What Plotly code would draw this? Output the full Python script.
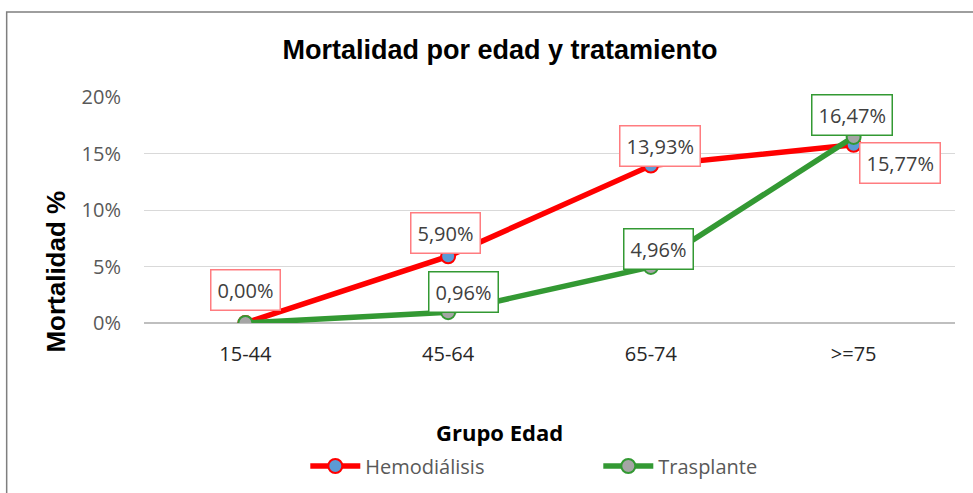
import plotly.graph_objects as go

categories = ["15-44", "45-64", "65-74", ">=75"]
hemodialisis = [0.0, 0.0590, 0.1393, 0.1577]
trasplante = [0.0, 0.0096, 0.0496, 0.1647]
y_ticks = [0, 0.05, 0.10, 0.15, 0.20]
y_tick_labels = ["0%", "5%", "10%", "15%", "20%"]

# label offsets (px) for data labels
hemo_shift = [(0, 33), (-3, 23), (9, 20), (46, -18)]
tras_shift = [(0, 0), (15, 20), (8, 18), (-2, 22)]

W, H = 973, 493
L, R, T, B = 143.5, 17.5, 97, 170
pw, ph = W - L - R, H - T - B

def px(x):
    return (x - L) / pw

def py(y):
    return (H - B - y) / ph

RED = "#FF0000"
GREEN = "#339933"
LABEL_FONT = "Open Sans"

fig = go.Figure()
fig.add_trace(go.Scatter(
    x=categories, y=hemodialisis, name="Hemodiálisis", mode="lines+markers",
    line=dict(color=RED, width=5.5),
    marker=dict(size=14, color="#5B9BD5", line=dict(color=RED, width=2)),
))
fig.add_trace(go.Scatter(
    x=categories, y=trasplante, name="Trasplante", mode="lines+markers",
    line=dict(color=GREEN, width=5.5),
    marker=dict(size=14, color="#A5A5A5", line=dict(color=GREEN, width=2)),
))

def fmt(v):
    return f"{v*100:.2f}%".replace(".", ",")

annotations = []
for c, v, (dx, dy) in zip(categories, hemodialisis, hemo_shift):
    annotations.append(dict(
        x=c, y=v, text=fmt(v), showarrow=False, xshift=dx, yshift=dy,
        font=dict(family=LABEL_FONT, size=20, color="#404040"),
        bordercolor="#FF7C80", borderwidth=1.5, borderpad=6, bgcolor="white",
    ))
for i, (c, v, (dx, dy)) in enumerate(zip(categories, trasplante, tras_shift)):
    if i == 0:
        continue  # 0,00% shown once (overlapping labels)
    annotations.append(dict(
        x=c, y=v, text=fmt(v), showarrow=False, xshift=dx, yshift=dy,
        font=dict(family=LABEL_FONT, size=20, color="#404040"),
        bordercolor=GREEN, borderwidth=1.5, borderpad=6, bgcolor="white",
    ))

annotations.append(dict(
    xref="paper", yref="paper", x=px(55), y=py(272), text="<b>Mortalidad %</b>",
    xanchor="center", yanchor="middle",
    textangle=-90, showarrow=False,
    font=dict(family="Liberation Sans", size=26, color="black"),
))
annotations.append(dict(
    xref="paper", yref="paper", x=px(499), y=py(432), text="<b>Grupo Edad</b>",
    xanchor="center", yanchor="middle",
    showarrow=False, font=dict(family=LABEL_FONT, size=22, color="black"),
))

fig.update_layout(
    width=W, height=H,
    margin=dict(l=L, r=R, t=T, b=B, autoexpand=False),
    paper_bgcolor="white", plot_bgcolor="white",
    title=dict(text="<b>Mortalidad por edad y tratamiento</b>",
               xref="container", yref="container",
               x=500 / W, xanchor="center", y=1 - 50 / H, yanchor="middle",
               font=dict(family="Liberation Sans", size=27, color="black")),
    xaxis=dict(type="category", range=[-0.5, 3.5], showgrid=False,
               showline=False, zeroline=False, ticks="",
               ticklabelstandoff=17,
               tickfont=dict(family=LABEL_FONT, size=20, color="#262626")),
    yaxis=dict(range=[0, 0.2], tickvals=y_ticks, ticktext=y_tick_labels,
               showgrid=True, gridcolor="#D9D9D9", gridwidth=1,
               zeroline=True, zerolinecolor="#BFBFBF", zerolinewidth=1.5,
               showline=False, ticks="", ticklabelstandoff=22,
               tickfont=dict(family=LABEL_FONT, size=20, color="#595959")),
    legend=dict(orientation="h", x=px(305), xanchor="left", y=py(466), yanchor="middle",
                font=dict(family=LABEL_FONT, size=20, color="#595959"),
                itemwidth=50, entrywidth=228, bgcolor="rgba(0,0,0,0)"),
    annotations=annotations,
    shapes=[dict(type="rect", xref="paper", yref="paper",
                 x0=px(6), x1=px(990), y0=py(510), y1=py(12),
                 line=dict(color="#7F7F7F", width=1.5), layer="below")],
)

fig.write_html("out.html", config={"displayModeBar": False},
               post_script="document.body.style.margin='0';document.body.style.overflow='hidden';")
